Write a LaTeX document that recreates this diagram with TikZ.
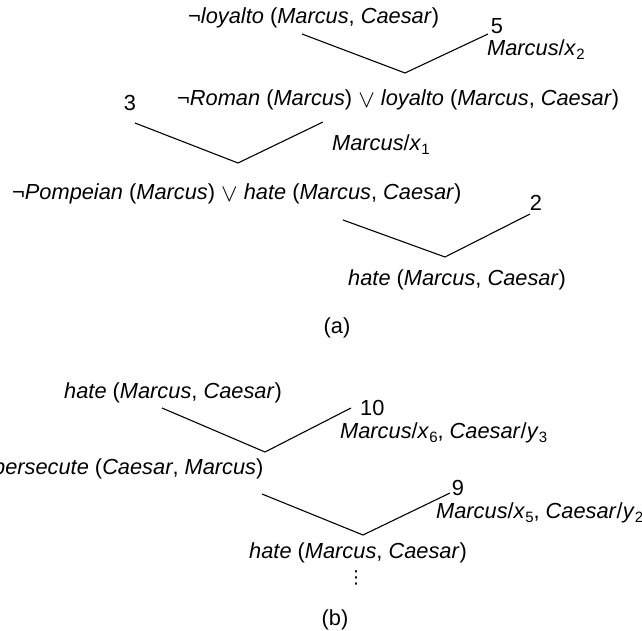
\documentclass[tikz,border=0pt]{standalone}
\usepackage{fontspec}
\setmainfont{Liberation Sans}
\newfontfamily\dvfont{DejaVu Sans}
\newcommand{\itx}[1]{\textit{#1}}
\newcommand{\lowsub}[1]{\raisebox{-0.35ex}{\fontsize{15}{15}\selectfont\upshape #1}}
\newcommand{\orsym}{\raisebox{-0.15ex}{\fontsize{24}{24}\selectfont$\vee$}}
\begin{document}
\begin{tikzpicture}[x=1pt,y=-1pt,
  lbl/.style={inner sep=0pt,font=\fontsize{21.8}{26}\selectfont},
  edge/.style={line width=1.1pt,line join=miter}]
\useasboundingbox (0,0) rectangle (642,631);
% (a)
\node[lbl,anchor=west] (t1) at (188,18) {\itx{¬loyalto} (\itx{Marcus}, \itx{Caesar})};
\node[lbl] (n5) at (497,26) {5};
\node[lbl,anchor=west] (s1) at (487,50) {\itx{Marcus}/\itx{x}\lowsub{2}};
\node[lbl] (n3) at (130,103) {3};
\node[lbl,anchor=west] (t2) at (177,100) {\itx{¬Roman} (\itx{Marcus}) \orsym{} \itx{loyalto} (\itx{Marcus}, \itx{Caesar})};
\node[lbl,anchor=west] (s2) at (332,145) {\itx{Marcus}/\itx{x}\lowsub{1}};
\node[lbl,anchor=west] (t3) at (12,194) {\itx{¬Pompeian} (\itx{Marcus}) \orsym{} \itx{hate} (\itx{Marcus}, \itx{Caesar})};
\node[lbl] (n2) at (536,203) {2};
\node[lbl,anchor=west] (t4) at (348,280) {\itx{hate} (\itx{Marcus}, \itx{Caesar})};
\node[lbl] (cap-a) at (337,328) {(a)};
% (b)
\node[lbl,anchor=west] (t5) at (64,393) {\itx{hate} (\itx{Marcus}, \itx{Caesar})};
\node[lbl,anchor=west] (n10) at (360,408) {10};
\node[lbl,anchor=west] (s3) at (340,433) {\itx{Marcus}/\itx{x}\lowsub{6}, \itx{Caesar}/\itx{y}\lowsub{3}};
\node[lbl,anchor=west] (t6) at (-7,469) {\itx{persecute} (\itx{Caesar}, \itx{Marcus})};
\node[lbl] (n9) at (458,488) {9};
\node[lbl,anchor=west] (s4) at (436,513) {\itx{Marcus}/\itx{x}\lowsub{5}, \itx{Caesar}/\itx{y}\lowsub{2}};
\node[lbl,anchor=west] (t7) at (249,553) {\itx{hate} (\itx{Marcus}, \itx{Caesar})};
\node[lbl] (dots) at (356,578) {{\dvfont\fontsize{18}{18}\selectfont ⋮}};
\node[lbl] (cap-b) at (335,620) {(b)};
% V connectors
\coordinate (v1l) at (302,34); \coordinate (v1b) at (405,73); \coordinate (v1r) at (488,34);
\coordinate (v2l) at (135,123); \coordinate (v2b) at (238,163); \coordinate (v2r) at (323,122);
\coordinate (v3l) at (343,220); \coordinate (v3b) at (445,257); \coordinate (v3r) at (530,214);
\coordinate (v4l) at (162,408); \coordinate (v4b) at (265,452); \coordinate (v4r) at (351,408);
\coordinate (v5l) at (262,494); \coordinate (v5b) at (363,535); \coordinate (v5r) at (450,493);
\draw[edge] (v1l) -- (v1b) -- (v1r);
\draw[edge] (v2l) -- (v2b) -- (v2r);
\draw[edge] (v3l) -- (v3b) -- (v3r);
\draw[edge] (v4l) -- (v4b) -- (v4r);
\draw[edge] (v5l) -- (v5b) -- (v5r);
\end{tikzpicture}
\end{document}
